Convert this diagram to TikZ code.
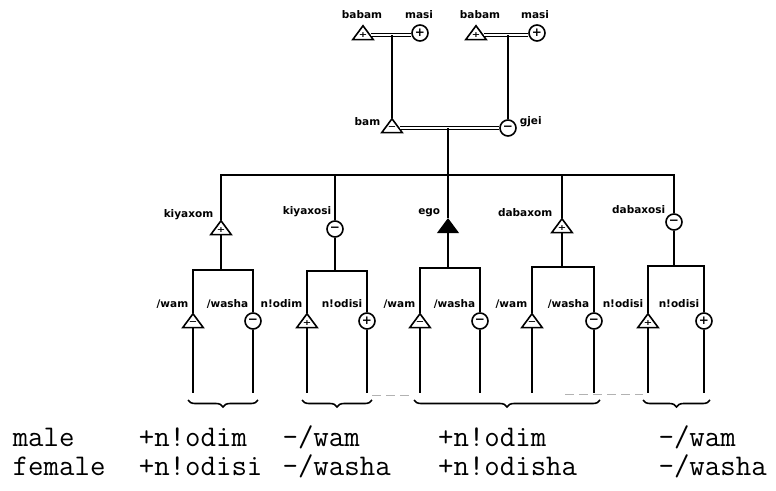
\documentclass[tikz,border=0pt]{standalone}
\usepackage{fontspec}
\newfontfamily\labfont{DejaVu Sans}
\usetikzlibrary{shapes.geometric,decorations.pathreplacing,calc}
\begin{document}
\begin{tikzpicture}[x=1pt,y=-1pt,line width=1.6pt,
  tri/.style={regular polygon,regular polygon sides=3,minimum size=22pt,inner sep=0pt,draw,fill=white,yscale=.78,
    font=\labfont\bfseries\fontsize{10}{10}\selectfont},
  circ/.style={circle,minimum size=16pt,inner sep=0pt,draw,fill=white,
    font=\labfont\bfseries\fontsize{12}{12}\selectfont},
  marr/.style={double,double distance=2pt,line width=0.9pt},
  lab/.style={font=\labfont\bfseries\fontsize{10.5}{10.5}\selectfont,inner sep=0pt},
  bt/.style={font=\ttfamily\fontsize{30}{30}\selectfont,anchor=base west,inner sep=0pt},
  brc/.style={decorate,decoration={brace,mirror,amplitude=7pt},line width=1.6pt},
  faint/.style={gray!60,line width=0.8pt,dash pattern=on 9pt off 5pt}]
\useasboundingbox (0,0) rectangle (776,490);
% grandparents
\node[tri] (b1) at (363,35) {+};
\node[circ] (m1) at (420,33) {+};
\node[tri] (b2) at (476,35) {+};
\node[circ] (m2) at (537,33) {+};
\node[lab] (lb1) at (362,15) {babam};
\node[lab] (lm1) at (419,15) {masi};
\node[lab] (lb2) at (480,15) {babam};
\node[lab] (lm2) at (535,15) {masi};
\draw[marr] (b1.east) -- (b1.east -| m1.west);
\draw[marr] (b2.east) -- (b2.east -| m2.west);
% parents
\node[tri] (bam) at (392,128) {−};
\node[circ] (gjei) at (508,128) {−};
\node[lab,anchor=east] (lbam) at (381,122) {bam};
\node[lab,anchor=west] (lgjei) at (519,122) {gjei};
\draw (bam.north) -- (bam.north |- b1.east);
\draw (gjei.north) -- (gjei.north |- b2.east);
\draw[marr] (bam.east) -- (bam.east -| gjei.west);
% siblings
\coordinate (sib) at (0,175);
\node[tri] (kx) at (221,230) {+};
\node[circ] (ks) at (335,229) {−};
\node[tri,fill=black] (ego) at (448,228) {};
\node[tri] (dx) at (562,228) {+};
\node[circ] (ds) at (674,222) {−};
\node[lab,anchor=east] (lkx) at (214,215) {kiyaxom};
\node[lab,anchor=east] (lks) at (332,212) {kiyaxosi};
\node[lab,anchor=east] (lego) at (441,213) {ego};
\node[lab,anchor=east] (ldx) at (553,213) {dabaxom};
\node[lab,anchor=east] (lds) at (666,210) {dabaxosi};
\draw (kx.north) |- (ds.north |- sib) -- (ds.north);
\draw (ks.north) -- (ks.north |- sib);
\draw (dx.north) -- (dx.north |- sib);
\draw (ego.north) -- (ego.north |- bam.east);
% children
\coordinate (g1) at (0,270);
\coordinate (g2) at (0,271);
\coordinate (g3) at (0,268);
\coordinate (g4) at (0,267);
\coordinate (g5) at (0,266);
\coordinate (bot) at (0,393);
\node[tri] (c1) at (193,323) {−};
\node[circ] (c2) at (253,321) {−};
\node[tri] (c3) at (307,323) {+};
\node[circ] (c4) at (367,321) {+};
\node[tri] (c5) at (420,323) {−};
\node[circ] (c6) at (480,321) {−};
\node[tri] (c7) at (532,323) {−};
\node[circ] (c8) at (594,321) {−};
\node[tri] (c9) at (648,323) {+};
\node[circ] (c10) at (704,321) {+};
\draw (c1.north) |- (g1 -| c2.north) -- (c2.north);
\draw (kx.south) -- (kx.south |- g1);
\draw (c3.north) |- (g2 -| c4.north) -- (c4.north);
\draw (ks.south) -- (ks.south |- g2);
\draw (c5.north) |- (g3 -| c6.north) -- (c6.north);
\draw (ego.south) -- (ego.south |- g3);
\draw (c7.north) |- (g4 -| c8.north) -- (c8.north);
\draw (dx.south) -- (dx.south |- g4);
\draw (c9.north) |- (g5 -| c10.north) -- (c10.north);
\draw (ds.south) -- (ds.south |- g5);
\foreach \c in {c1,c2,c3,c4,c5,c6,c7,c8,c9,c10}
  \draw (\c.south) -- (\c.south |- bot);
\node[lab,anchor=east] (l1) at (189,304) {/wam};
\node[lab,anchor=east] (l2) at (249,304) {/washa};
\node[lab,anchor=east] (l3) at (303,304) {n!odim};
\node[lab,anchor=east] (l4) at (363,304) {n!odisi};
\node[lab,anchor=east] (l5) at (416,304) {/wam};
\node[lab,anchor=east] (l6) at (476,304) {/washa};
\node[lab,anchor=east] (l7) at (528,304) {/wam};
\node[lab,anchor=east] (l8) at (590,304) {/washa};
\node[lab,anchor=east] (l9) at (644,304) {n!odisi};
\node[lab,anchor=east] (l10) at (700,304) {n!odisi};
% scan traces
\draw[faint] (372,395) -- (410,395);
\draw[faint] (565,394) -- (643,394);
% braces
\draw[brc] (188,400) -- (258,400);
\draw[brc] (302,400) -- (372,400);
\draw[brc] (414,400) -- (600,400);
\draw[brc] (643,400) -- (710,400);
% bottom text
\node[bt] (t1) at (12,446) {male};
\node[bt] (t2) at (138,446) {+n!odim};
\node[bt] (t3) at (281.75,446) {-/wam};
\node[bt] (t4) at (437.25,446) {+n!odim};
\node[bt] (t5) at (657.75,446) {-/wam};
\node[bt] (u1) at (12,475) {female};
\node[bt] (u2) at (138,475) {+n!odisi};
\node[bt] (u3) at (281.75,475) {-/washa};
\node[bt] (u4) at (437.25,475) {+n!odisha};
\node[bt] (u5) at (657.75,475) {-/washa};
\end{tikzpicture}
\end{document}
